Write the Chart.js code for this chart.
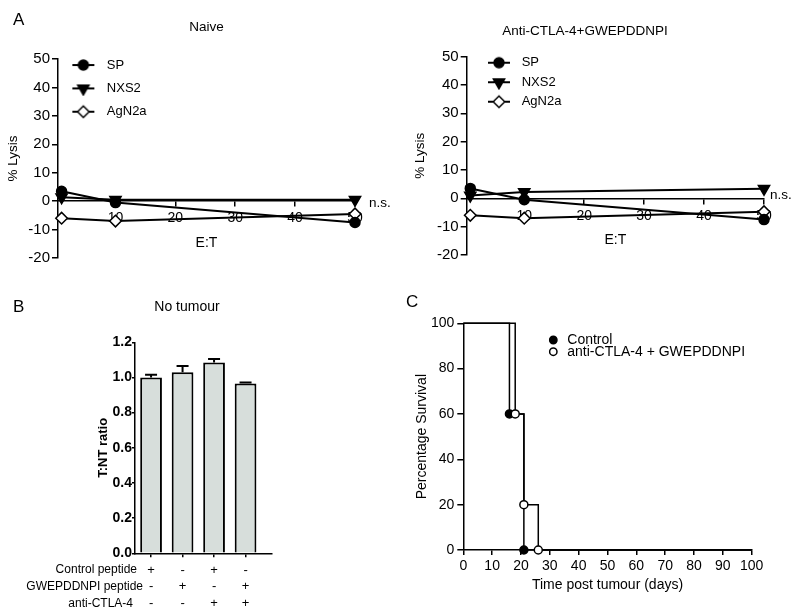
<!DOCTYPE html>
<html>
<head>
<meta charset="utf-8">
<title>Lysis, T:NT ratio and survival</title>
<script src="https://cdn.jsdelivr.net/npm/chart.js@4.4.1/dist/chart.umd.min.js"></script>
<style>
  body { margin: 0; background: #fff; }
  #figure { position: relative; width: 800px; height: 615px; font-family: Arial, "Liberation Sans", sans-serif; }
  #figure canvas { position: absolute; }
  .panel-letter { position: absolute; font-size: 17px; line-height: 1; color: #000; }
</style>
</head>
<body>
<div id="figure">
  <canvas id="naiveChart" width="400" height="290" style="left:0;top:0"></canvas>
  <canvas id="treatedChart" width="400" height="290" style="left:400px;top:0"></canvas>
  <canvas id="ratioChart" width="400" height="325" style="left:0;top:290px"></canvas>
  <canvas id="survivalChart" width="400" height="325" style="left:400px;top:290px"></canvas>
  <div class="panel-letter" style="left:13px;top:11px">A</div>
  <div class="panel-letter" style="left:13px;top:298px">B</div>
  <div class="panel-letter" style="left:406px;top:293px">C</div>
</div>
<script>
Chart.defaults.font.family = 'Arial, "Liberation Sans", sans-serif';
Chart.defaults.color = '#000';
Chart.defaults.animation = false;
Chart.defaults.plugins.tooltip.enabled = false;

// panel A: % lysis against E:T ratio
const etRatios = [1, 10, 50];
const naiveSP = [3.5, -0.5, -7.5];
const naiveNXS2 = [1.4, 0.5, 0.5];
const naiveAgN2a = [-6, -7, -4.5];
const treatedSP = [3.5, -0.5, -7.5];
const treatedNXS2 = [1, 2.2, 3.4];
const treatedAgN2a = [-6, -7, -4.7];

// panel B: T:NT ratio, no tumour
const tnGroups = [1, 2, 3, 4];
const tnRatio = [1.0, 1.03, 1.085, 0.965];
const tnRatioSem = [0.015, 0.035, 0.02, 0.006];
const controlPeptide = ['+', '-', '+', '-'];
const gwepPeptide = ['-', '+', '-', '+'];
const antiCtla4 = ['-', '-', '+', '+'];
const treatmentRows = ['Control peptide', 'GWEPDDNPI peptide', 'anti-CTLA-4'];

// panel C: survival
const controlDays = [0, 16, 21, 100];
const controlSurvival = [100, 60, 0, 0];
const treatedDays = [0, 18, 21, 26, 100];
const treatedSurvival = [100, 60, 20, 0, 0];

const markers = {
    SP: { pointStyle: 'circle', radius: 5, rotation: 0, fill: '#000' },
    NXS2: { pointStyle: 'triangle', radius: 6.5, rotation: 180, fill: '#000' },
    AgN2a: { pointStyle: 'rectRot', radius: 5.8, rotation: 0, fill: '#fff' }
};

// small line + marker picture used as the legend symbol in panel A
function legendIcon(m) {
    const c = document.createElement('canvas');
    c.width = 24;
    c.height = 16;
    const g = c.getContext('2d');
    g.strokeStyle = '#000';
    g.lineWidth = 2;
    g.beginPath();
    g.moveTo(1, 8);
    g.lineTo(23, 8);
    g.stroke();
    g.lineWidth = 1.5;
    g.fillStyle = m.fill;
    Chart.helpers.drawPoint(g, { pointStyle: m.pointStyle, radius: m.radius, rotation: m.rotation, borderWidth: 1.5 }, 12, 8);
    return c;
}

// moves the legend box to a fixed spot inside the canvas
const legendAt = {
    id: 'legendAt',
    afterLayout(chart, args, opts) {
        const lg = chart.legend;
        if (!lg || opts.x === undefined) return;
        const w = lg.width, h = lg.height;
        lg.left = opts.x;
        lg.top = opts.y;
        lg.right = opts.x + w;
        lg.bottom = opts.y + h;
    }
};

const nsLabel = {
    id: 'nsLabel',
    afterDatasetsDraw(chart, args, opts) {
        const { ctx, scales: { x, y } } = chart;
        ctx.save();
        ctx.font = '13.5px Arial, "Liberation Sans", sans-serif';
        ctx.fillStyle = '#000';
        ctx.textBaseline = 'middle';
        ctx.fillText('n.s.', x.getPixelForValue(etRatios[etRatios.length - 1]) + opts.dx, y.getPixelForValue(0) + opts.dy);
        ctx.restore();
    }
};

function lysisChart(canvasId, title, sp, nxs2, agn2a, L) {
    const seriesList = [['SP', sp], ['NXS2', nxs2], ['AgN2a', agn2a]];
    return new Chart(document.getElementById(canvasId), {
        type: 'line',
        data: {
            datasets: seriesList.map(([name, vals]) => ({
                label: name,
                data: etRatios.map((x, i) => ({ x: x, y: vals[i] })),
                borderColor: '#000',
                borderWidth: 2,
                pointStyle: markers[name].pointStyle,
                pointRadius: markers[name].radius,
                pointRotation: markers[name].rotation,
                pointBackgroundColor: markers[name].fill,
                pointBorderColor: '#000',
                pointBorderWidth: 1.5,
                clip: false
            }))
        },
        options: {
            responsive: false,
            layout: { padding: L.padding },
            plugins: {
                title: {
                    display: true,
                    text: title,
                    fullSize: L.titleFull,
                    font: { size: 13.5, weight: 'normal' },
                    padding: { top: 0, bottom: L.titleGap }
                },
                legend: {
                    position: 'chartArea',
                    align: 'start',
                    labels: {
                        usePointStyle: true,
                        pointStyleWidth: L.legendBox,
                        padding: L.legendPad,
                        font: { size: 13 },
                        generateLabels: chart => chart.data.datasets.map((ds, i) => ({
                            text: ds.label,
                            pointStyle: legendIcon(markers[ds.label]),
                            datasetIndex: i,
                            fontColor: '#000',
                            lineWidth: 0
                        }))
                    }
                },
                legendAt: { x: L.legendX, y: L.legendY },
                nsLabel: { dx: L.nsDx, dy: L.nsDy }
            },
            scales: {
                x: {
                    type: 'linear',
                    min: 0.4,
                    max: 50,
                    position: { y: 0 },
                    afterBuildTicks: s => { s.ticks = s.ticks.filter(t => t.value >= 10); },
                    afterFit: s => { s.height = 50.5; s.paddingLeft = 0; s.paddingRight = 0; },
                    ticks: { stepSize: 10, font: { size: 14 }, padding: 4, maxRotation: 0 },
                    grid: { drawOnChartArea: false, tickLength: 5, color: '#000', lineWidth: 1.5 },
                    border: { color: '#000', width: 1.5 },
                    title: { display: true, text: 'E:T', font: { size: 14 }, padding: 0 }
                },
                y: {
                    min: -20,
                    max: 50,
                    afterFit: s => { s.width = L.axisWidth; s.paddingTop = 0; s.paddingBottom = 0; },
                    ticks: { stepSize: 10, font: { size: 15 }, padding: 2 },
                    grid: { drawOnChartArea: false, tickLength: 6, color: '#000', lineWidth: 1.5 },
                    border: { color: '#000', width: 1.5 },
                    title: { display: true, text: '% Lysis', font: { size: 13.5 }, padding: { top: L.yTitlePad, bottom: 0 } }
                }
            }
        },
        plugins: [legendAt, nsLabel]
    });
}

lysisChart('naiveChart', 'Naive', naiveSP, naiveNXS2, naiveAgN2a, {
    padding: { left: 0, top: 19.4, right: 45, bottom: 32 },
    titleFull: false, titleGap: 23.4, axisWidth: 58, yTitlePad: 5.2,
    legendBox: 34, legendPad: 10.35, legendX: 56, legendY: 48.2,
    nsDx: 14, nsDy: 2.6
});

lysisChart('treatedChart', 'Anti-CTLA-4+GWEPDDNPI', treatedSP, treatedNXS2, treatedAgN2a, {
    padding: { left: 6, top: 23.6, right: 36, bottom: 35 },
    titleFull: true, titleGap: 16.9, axisWidth: 60.7, yTitlePad: 5.9,
    legendBox: 32.4, legendPad: 6.5, legendX: 76.3, legendY: 49.7,
    nsDx: 6, nsDy: -3.3
});

// panel B
const tickGap = 4, tickPad = 4.35, tickRowHeight = 16.7;
const rowLabelRight = [137, 143, 133];

const errorBars = {
    id: 'errorBars',
    afterDatasetsDraw(chart) {
        const { ctx, scales: { y } } = chart;
        const bars = chart.getDatasetMeta(0).data;
        ctx.save();
        ctx.strokeStyle = '#000';
        ctx.lineWidth = 2;
        tnRatio.forEach((v, i) => {
            const px = bars[i].x;
            const top = y.getPixelForValue(v + tnRatioSem[i]);
            ctx.beginPath();
            ctx.moveTo(px, y.getPixelForValue(v));
            ctx.lineTo(px, top);
            ctx.moveTo(px - 6, top);
            ctx.lineTo(px + 6, top);
            ctx.stroke();
        });
        ctx.restore();
    }
};

const rowLabels = {
    id: 'rowLabels',
    afterDraw(chart) {
        const { ctx, scales: { x } } = chart;
        ctx.save();
        ctx.font = '12px Arial, "Liberation Sans", sans-serif';
        ctx.fillStyle = '#000';
        ctx.textAlign = 'right';
        ctx.textBaseline = 'middle';
        treatmentRows.forEach((t, i) => {
            ctx.fillText(t, rowLabelRight[i], x.top + tickGap + tickPad + tickRowHeight * (i + 0.5));
        });
        ctx.restore();
    }
};

new Chart(document.getElementById('ratioChart'), {
    type: 'bar',
    data: {
        datasets: [{
            data: tnGroups.map((g, i) => ({ x: g, y: tnRatio[i] })),
            backgroundColor: '#d7dedb',
            borderColor: '#000',
            borderWidth: 2,
            categoryPercentage: 1,
            barPercentage: 0.69
        }]
    },
    options: {
        responsive: false,
        layout: { padding: { left: 102.3, top: 8.3, right: 128.3, bottom: 0 } },
        plugins: {
            legend: { display: false },
            title: { display: true, text: 'No tumour', font: { size: 14, weight: 'normal' }, padding: { top: 0, bottom: 27.2 } }
        },
        scales: {
            x: {
                type: 'linear',
                min: 0.49,
                max: 4.83,
                offset: false,
                afterBuildTicks: s => { s.ticks = tnGroups.map(v => ({ value: v })); },
                afterFit: s => { s.height = 61.7; s.paddingLeft = 0; s.paddingRight = 0; },
                ticks: {
                    callback: v => {
                        const i = tnGroups.indexOf(v);
                        return [controlPeptide[i], gwepPeptide[i], antiCtla4[i]];
                    },
                    font: { size: 13, lineHeight: tickRowHeight / 13 },
                    padding: tickPad,
                    maxRotation: 0,
                    autoSkip: false
                },
                grid: { drawOnChartArea: false, offset: false, tickLength: tickGap, color: '#000', lineWidth: 1.5 },
                border: { color: '#000', width: 1.5 }
            },
            y: {
                min: 0,
                max: 1.2,
                afterFit: s => { s.width = 32.7; s.paddingTop = 0; s.paddingBottom = 0; },
                ticks: { stepSize: 0.2, font: { size: 14, weight: 'bold' }, padding: 0, callback: v => v.toFixed(1) },
                grid: { drawOnChartArea: false, tickLength: 3, color: '#000', lineWidth: 1.5 },
                border: { color: '#000', width: 1.5 },
                title: { display: true, text: 'T:NT ratio', font: { size: 13, weight: 'bold' }, padding: { top: -6.5, bottom: 0 } }
            }
        }
    },
    plugins: [errorBars, rowLabels]
});

// panel C
const kmMarker = ctx => (ctx.dataIndex === 0 || ctx.dataIndex === ctx.dataset.data.length - 1) ? 0 : 4;

new Chart(document.getElementById('survivalChart'), {
    type: 'line',
    data: {
        datasets: [
            {
                label: 'Control',
                data: controlDays.map((d, i) => ({ x: d, y: controlSurvival[i] })),
                stepped: 'before',
                borderColor: '#000',
                borderWidth: 1.5,
                pointRadius: kmMarker,
                pointBackgroundColor: '#000',
                pointBorderColor: '#000',
                pointBorderWidth: 1.5,
                clip: false,
                order: 1
            },
            {
                label: 'anti-CTLA-4 + GWEPDDNPI',
                data: treatedDays.map((d, i) => ({ x: d, y: treatedSurvival[i] })),
                stepped: 'before',
                borderColor: '#000',
                borderWidth: 1.5,
                pointRadius: kmMarker,
                pointBackgroundColor: '#fff',
                pointBorderColor: '#000',
                pointBorderWidth: 1.5,
                clip: false,
                order: 0
            }
        ]
    },
    options: {
        responsive: false,
        layout: { padding: { left: 0, top: 33.3, right: 48.3, bottom: 20 } },
        plugins: {
            legend: {
                position: 'chartArea',
                align: 'start',
                // empty title only keeps the tightly spaced rows inside the legend's clip box
                title: { display: true, text: '', font: { size: 3 }, padding: 0 },
                labels: {
                    usePointStyle: true,
                    boxWidth: 14,
                    boxHeight: 5.2,
                    padding: -2.3,
                    font: { size: 14 },
                    sort: (a, b) => a.datasetIndex - b.datasetIndex
                }
            },
            legendAt: { x: 148.6, y: 41.7 }
        },
        scales: {
            x: {
                type: 'linear',
                min: 0,
                max: 100,
                afterFit: s => { s.height = 45; s.paddingLeft = 0; s.paddingRight = 0; },
                ticks: { stepSize: 10, font: { size: 14 }, padding: 3, maxRotation: 0, autoSkip: false },
                grid: { drawOnChartArea: false, tickLength: 5, color: '#000', lineWidth: 1.5 },
                border: { color: '#000', width: 1.5 },
                title: { display: true, text: 'Time post tumour (days)', font: { size: 14 }, padding: { top: 0, bottom: 1.6 } }
            },
            y: {
                min: 0,
                max: 100,
                afterFit: s => { s.width = 63.3; s.paddingTop = 0; s.paddingBottom = 0; },
                ticks: { stepSize: 20, font: { size: 14 }, padding: 3 },
                grid: { drawOnChartArea: false, tickLength: 6, color: '#000', lineWidth: 1.5 },
                border: { color: '#000', width: 1.5 },
                title: { display: true, text: 'Percentage Survival', font: { size: 14 }, padding: { top: 13.3, bottom: 0 } }
            }
        }
    },
    plugins: [legendAt]
});
</script>
</body>
</html>
